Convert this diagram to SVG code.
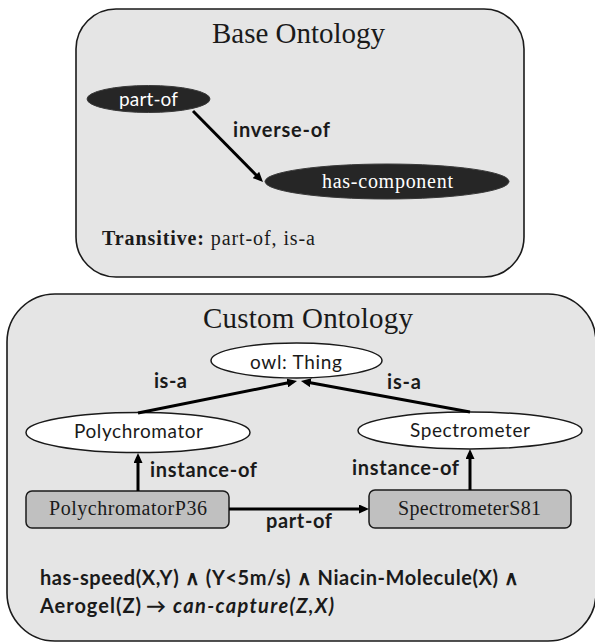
<svg xmlns="http://www.w3.org/2000/svg" width="595" height="642" viewBox="0 0 595 642">
  <style>
    .panel { fill: #e5e5e5; stroke: #1a1a1a; stroke-width: 1.6; }
    .title { font-family: "Liberation Serif", serif; font-size: 29px; fill: #1a1a1a; }
    .dark { fill: #262626; stroke: #3a3a3a; stroke-width: 1; }
    .light { fill: #ffffff; stroke: #1a1a1a; stroke-width: 1.5; }
    .inst { fill: #c0c0c0; stroke: #1a1a1a; stroke-width: 1.5; }
    .sans { font-family: Lato, "Liberation Sans", sans-serif; font-size: 19px; fill: #1a1a1a; }
    .bold { font-family: Lato, "Liberation Sans", sans-serif; font-size: 20px; font-weight: bold; fill: #1a1a1a; }
    .serif { font-family: "Liberation Serif", serif; font-size: 20px; fill: #1a1a1a; }
    .white { fill: #ffffff; }
    .edge { stroke: #000; stroke-width: 3; fill: none; marker-end: url(#arrow); }
  </style>
  <defs>
    <marker id="arrow" markerUnits="userSpaceOnUse" markerWidth="10" markerHeight="9" refX="6" refY="4.5" orient="auto">
      <path d="M0,0 L10,4.5 L0,9 z" fill="#000"/>
    </marker>
  </defs>

  <!-- Base ontology panel -->
  <g id="base-ontology">
    <rect class="panel" x="76" y="9" width="448" height="268" rx="40" ry="40"/>
    <text class="title" x="212" y="43" textLength="173">Base Ontology</text>
  </g>
  <g id="part-of-property">
    <ellipse class="dark" cx="148.5" cy="99" rx="61.5" ry="13.5"/>
    <text class="sans white" x="119" y="106" font-size="18" textLength="59">part-of</text>
  </g>
  <g id="has-component-property">
    <ellipse class="dark" cx="387" cy="181.5" rx="122" ry="17.5"/>
    <text class="serif white" x="322" y="188" font-size="21" textLength="131">has-component</text>
  </g>
  <g id="transitive-note">
    <text class="serif" x="102" y="245" font-size="21.5" textLength="213"><tspan font-weight="bold">Transitive:</tspan> part-of, is-a</text>
  </g>

  <!-- Custom ontology panel -->
  <g id="custom-ontology">
    <rect class="panel" x="7" y="294" width="589" height="347" rx="48" ry="48"/>
    <text class="title" x="203" y="328" textLength="210">Custom Ontology</text>
  </g>
  <g id="owl-thing">
    <ellipse class="light" cx="296.5" cy="360.5" rx="85.5" ry="17.5"/>
    <text class="sans" x="250" y="369" textLength="92">owl: Thing</text>
  </g>
  <g id="polychromator">
    <ellipse class="light" cx="138" cy="432.5" rx="112" ry="20"/>
    <text class="sans" x="74" y="438" textLength="129">Polychromator</text>
  </g>
  <g id="spectrometer">
    <ellipse class="light" cx="470" cy="430.5" rx="112" ry="18.5"/>
    <text class="sans" x="410" y="437" textLength="120">Spectrometer</text>
  </g>
  <g id="polychromator-p36">
    <rect class="inst" x="26" y="491" width="203" height="37" rx="6" ry="6"/>
    <text class="serif" x="49" y="515" font-size="21" textLength="158">PolychromatorP36</text>
  </g>
  <g id="spectrometer-s81">
    <rect class="inst" x="369" y="490" width="202" height="38" rx="6" ry="6"/>
    <text class="serif" x="398" y="515" font-size="21" textLength="143">SpectrometerS81</text>
  </g>
  <g id="capture-rule">
    <text class="bold" x="40" y="585" textLength="479">has-speed(X,Y) ∧ (Y&lt;5m/s) ∧ Niacin-Molecule(X) ∧</text>
    <text class="bold" x="40" y="613" textLength="101">Aerogel(Z)</text>
    <text class="bold" x="146" y="613" textLength="18">→</text>
    <text class="bold" x="173" y="613" font-style="italic" textLength="161">can-capture(Z,X)</text>
  </g>

  <!-- Connectors -->
  <g id="connectors">
    <line class="edge" x1="193" y1="111" x2="260.2" y2="179.2"/>
    <text class="bold" x="233" y="137" textLength="97">inverse-of</text>

    <line class="edge" x1="138" y1="413" x2="293.1" y2="381.8"/>
    <text class="bold" x="154" y="388" textLength="33">is-a</text>

    <line class="edge" x1="470" y1="412" x2="304.9" y2="381.7"/>
    <text class="bold" x="387" y="389" textLength="34">is-a</text>

    <line class="edge" x1="138" y1="491" x2="138" y2="457"/>
    <text class="bold" x="150" y="477" textLength="107">instance-of</text>

    <line class="edge" x1="470" y1="490" x2="470" y2="453"/>
    <text class="bold" x="352" y="475" textLength="107">instance-of</text>

    <line class="edge" x1="229" y1="509" x2="365" y2="509"/>
    <text class="bold" x="266" y="528" textLength="66">part-of</text>
  </g>
</svg>
